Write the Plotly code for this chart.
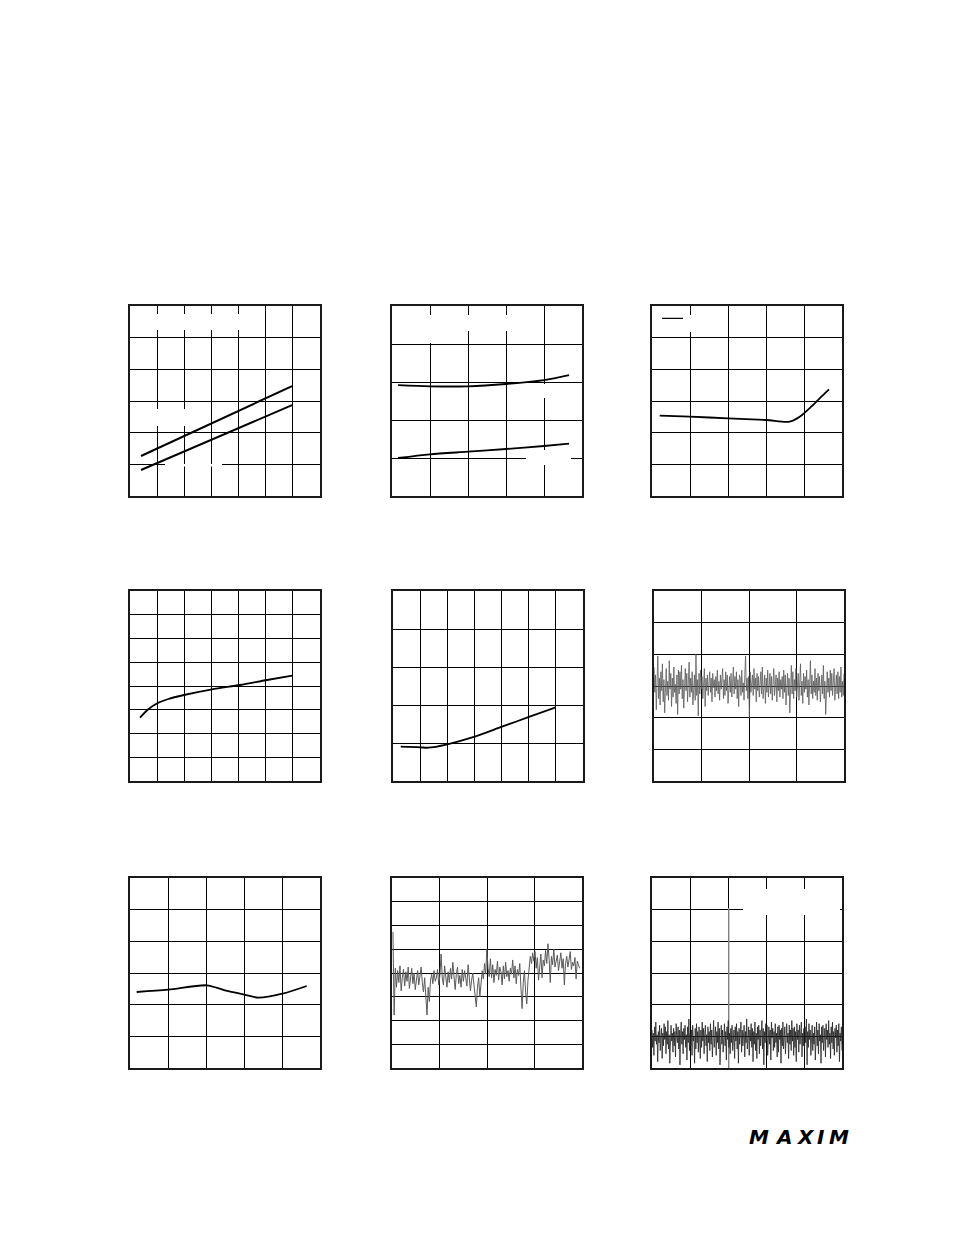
import plotly.graph_objects as go

# page offset: the browser adds an 8px body margin around the figure
OFF = 8
W, H = 954 - OFF, 1235 - OFF

# ---------------- data ----------------
# Panel 1: two straight lines
p1_x = [0.405, 5.97]
p1_upper = [1.263, 3.47]
p1_lower = [0.82, 2.87]

# Panel 2: two curves
p2_x = [0.158, 1.0, 2.0, 3.0, 4.0, 4.66]
p2_upper = [2.92, 2.887, 2.887, 2.947, 3.05, 3.18]
p2_lower = [1.0, 1.097, 1.166, 1.237, 1.316, 1.376]

# Panel 3: one curve + legend sample line
p3_x = [0.203, 1.0, 2.0, 3.0, 3.62, 3.887, 4.19, 4.455, 4.658]
p3_y = [2.536, 2.504, 2.454, 2.40, 2.346, 2.504, 2.82, 3.136, 3.37]
p3_leg_x = [0.263, 0.816]
p3_leg_y = [5.61, 5.61]

# Panel 4
p4_x = [0.368, 0.674, 1.006, 1.411, 1.989, 3.021, 4.053, 5.047, 5.98]
p4_y = [2.665, 3.019, 3.272, 3.453, 3.621, 3.861, 4.042, 4.253, 4.434]

# Panel 5
p5_x = [0.284, 1.006, 1.289, 2.0, 3.01, 4.016, 5.036, 5.994]
p5_y = [0.903, 0.887, 0.876, 0.966, 1.166, 1.429, 1.692, 1.939]

# Panel 6: noise trace (hundredths of a division about the centre line)
p6_center = 3.0
p6_noise = [
    60, -20, 35, -75, 10, 95, -40, 25, -60, 45,
    -15, 70, -50, 20, -85, 30, 55, -30, 15, -45,
    80, -10, 40, -65, 25, -35, 60, -20, 5, -55,
    35, -90, 50, -25, 45, -10, 65, -40, 20, -70,
    30, 55, -15, 40, -50, 10, 75, -35, 25, -20,
    45, -60, 15, 35, -45, 100, -30, 20, -95, 40,
    -25, 50, -10, 30, -40, 15, 55, -65, 25, -15,
    35, -30, 10, 45, -20, 25, -50, 40, -5, 20,
    -35, 30, -15, 50, -25, 15, -45, 35, -10, 25,
    55, -40, 20, -30, 45, -15, 35, -55, 10, 30,
    -20, 40, -35, 15, 60, -25, 30, -10, 45, -40,
    20, -65, 35, 25, -30, 50, -20, 10, -45, 35,
    95, -15, 25, -40, 30, -100, 45, -20, 15, 35,
    -30, 55, -10, 25, -50, 40, -15, 30, -35, 20,
    45, -25, 60, -40, 10, 35, -55, 25, -20, 50,
    -35, 15, 40, -25, 30, -45, 20, 55, -30, 10,
    35, -50, 25, -15, 45, -35, 20, -10, 30, -40,
    50, -20, 35, -60, 15, 40, -30, 25, -85, 30,
    65, -25, 45, -40, 20, -15, 55, -35, 10, 40,
    -45, 25, 70, -30, 15, -55, 40, -20, 30, -10,
    50, -35, 20, -60, 45, 80, -25, 35, -40, 15,
    -20, 55, -30, 25, -45, 40, -15, 30, -50, 20,
    35, -25, 65, -40, 15, -90, 30, 45, -20, 25,
    -35, 50, -15, 40, -30, 20, 55, -45, 10, 35,
    -25, 45, -40, 30, -20, 60, -35, 15, -30, 40,
]

# Panel 7
p7_x = [0.176, 1.008, 2.018, 2.5, 3.008, 3.376, 4.008, 4.65]
p7_y = [2.40, 2.473, 2.612, 2.454, 2.32, 2.223, 2.346, 2.59]

# Panel 8: noise trace with slow drift (hundredths about the centre line)
p8_center = 4.0
p8_noise = [
    173, -177, 20, -60, 10, -40, 30, -75, -20, 15,
    -55, 5, -35, 25, -65, -10, 20, -45, 0, -70,
    -25, 10, -50, -15, 25, -40, -80, -20, -100, -177,
    -60, -120, -30, -5, -45, 10, -35, -20, 15, -50,
    -10, 80, -20, -50, 30, -15, -60, 5, -40, 20,
    -25, 45, -30, -70, -5, 25, -45, -10, -60, 15,
    -35, 10, -20, -55, 35, -15, -75, -30, 0, -50,
    -90, -143, -60, -20, -100, -40, 10, -25, 40, -5,
    100, 20, -15, 60, -20, 35, -40, 15, -10, 50,
    -30, 25, 5, -50, 30, -25, 45, -15, 10, -35,
    20, -5, 55, -20, 30, -45, 15, -10, 40, -60,
    -150, -40, 10, -80, -130, -30, 25, 70, 40, 85,
    50, 90, 20, 65, -30, 45, 80, -20, 55, 30,
    95, 40, 123, 60, -40, 70, 35, 100, 25, 50,
    75, 10, 45, 85, 20, 60, -50, 40, 70, 25,
    55, 90, 15, 45, 30, 65, -25, 50, 35, 20,
]

# Panel 9: dense noise trace (hundredths about the centre line)
p9_center = 1.0
p9_noise = [
    20, -35, 10, -60, 30, -15, 45, -25, 5, -80,
    15, -20, 35, -45, 0, 25, -70, 10, -30, 40,
    -10, 30, -55, 15, -25, 50, -40, 5, -85, 20,
    35, -15, 10, -50, 25, -30, 15, -65, 40, -5,
    -20, 30, -40, 20, -90, 10, 45, -25, 15, -55,
    25, -10, 35, -35, 5, -75, 30, -20, 55, -45,
    10, -30, 20, -60, 35, -15, 0, -85, 25, -40,
    40, -20, 15, -50, 30, -10, -70, 20, -35, 45,
    -15, 25, -55, 10, 35, -30, 5, -80, 30, -20,
    15, -45, 40, -25, 20, -65, 10, 50, -35, -5,
    30, -60, 15, -20, 45, -40, 25, -90, 10, 35,
    -25, 20, -50, 5, 40, -30, 15, -75, 30, -10,
    50, -35, 10, -55, 25, -20, 35, -45, 0, 20,
    -70, 30, -15, 40, -40, 15, -85, 25, -25, 10,
    45, -50, 20, -30, 5, 35, -65, 15, -20, 55,
    -40, 10, 30, -60, 20, -15, 40, -35, 25, -80,
    15, -25, 45, -45, 10, -70, 30, -10, 35, -55,
    20, -30, 5, 50, -40, 25, -90, 15, -20, 40,
    -15, 35, -60, 10, 30, -25, 20, -75, 45, -5,
    25, -45, 15, -35, 40, -20, 10, -65, 30, -50,
    35, -10, 20, -85, 25, -30, 45, -40, 5, 30,
    -55, 15, 40, -20, 10, -70, 35, -25, 20, -45,
    50, -15, 25, -60, 30, -35, 15, -80, 40, -10,
    20, -50, 35, -25, 5, 45, -65, 10, -30, 25,
    -40, 30, -20, 55, -90, 15, -35, 40, -10, 20,
    -60, 25, 35, -45, 10, -25, 30, -75, 15, 45,
    -30, 20, -55, 40, -15, 5, -85, 30, -20, 35,
    -45, 15, 25, -65, 40, -10, 20, -35, 50, -25,
    10, -70, 30, -20, 45, -40, 15, -60, 25, -5,
    35, -50, 20, -30, 40, -80, 10, -15, 30, -45,
]
p9_marker_x = [2.02, 2.02]
p9_marker_y = [0.0, 5.05]

logo_letters = ["M", "A", "X", "I", "M"]

# ---------------- layout geometry (page pixels) ----------------
# (left, right, top, bottom, columns, rows)
panels = [
    (130, 320, 306, 496, 7, 6),
    (392, 582, 306, 496, 5, 5),
    (652, 842, 306, 496, 5, 6),
    (130, 320, 591, 781, 7, 8),
    (393, 583, 591, 781, 7, 5),
    (654, 844, 591, 781, 4, 6),
    (130, 320, 878, 1068, 5, 6),
    (392, 582, 878, 1068, 4, 8),
    (652, 842, 878, 1068, 5, 6),
]


def px_x(px):
    return (px - OFF) / W


def px_y(py):
    return 1 - (py - OFF) / H


fig = go.Figure()


def ax_names(i):
    return ("x" if i == 1 else f"x{i}"), ("y" if i == 1 else f"y{i}")


for i, (l, r, t, b, nc, nr) in enumerate(panels, start=1):
    xn, yn = ax_names(i)
    common = dict(
        showgrid=True, gridcolor="black", gridwidth=1.2, dtick=1, tick0=0,
        showline=True, mirror=True, linecolor="#1a1a1a", linewidth=2,
        zeroline=False, showticklabels=False, ticks="", fixedrange=True,
    )
    fig.layout["xaxis" if i == 1 else f"xaxis{i}"] = dict(
        domain=[px_x(l), px_x(r)], range=[0, nc], anchor=yn, **common)
    fig.layout["yaxis" if i == 1 else f"yaxis{i}"] = dict(
        domain=[px_y(b), px_y(t)], range=[0, nr], anchor=xn, **common)


def line(i, x, y, width=2.0, color="black", shape="spline"):
    xn, yn = ax_names(i)
    fig.add_trace(go.Scatter(x=x, y=y, mode="lines", xaxis=xn, yaxis=yn,
                             line=dict(color=color, width=width, shape=shape,
                                       smoothing=0.8),
                             showlegend=False, hoverinfo="skip"))


def noise(i, center, vals, x0, x1, width, color):
    n = len(vals)
    xs = [x0 + (x1 - x0) * k / (n - 1) for k in range(n)]
    ys = [center + v / 100.0 for v in vals]
    line(i, xs, ys, width=width, color=color, shape="linear")


line(1, p1_x, p1_upper, shape="linear")
line(1, p1_x, p1_lower, shape="linear")
line(2, p2_x, p2_upper, width=1.8)
line(2, p2_x, p2_lower, width=1.8)
line(3, p3_x, p3_y, width=1.8)
line(3, p3_leg_x, p3_leg_y, width=1.2, shape="linear")
line(4, p4_x, p4_y, width=1.8)
line(5, p5_x, p5_y, width=1.8)
noise(6, p6_center, p6_noise, 0.0, 4.0, 0.8, "#5a5a5a")
line(7, p7_x, p7_y, width=1.8)
noise(8, p8_center, p8_noise, 0.02, 3.95, 1.0, "#5a5a5a")
line(9, p9_marker_x, p9_marker_y, width=1.4, color="#8a8a8a", shape="linear")
noise(9, p9_center, p9_noise, 0.0, 5.0, 0.8, "#222222")

# white areas where the original labels sat (gridline gaps)
masks = [
    (1, 145, 314, 255, 330),
    (1, 150, 409, 192, 426),
    (1, 165, 464, 222, 466.5),
    (2, 421, 315, 519, 331),
    (2, 425, 331, 436, 343),
    (2, 537, 384, 551, 398),
    (2, 526, 450, 571, 465),
    (3, 685, 315, 695, 332),
    (9, 743, 889, 840, 915),
]
shapes = []
for (i, px0, py0, px1, py1) in masks:
    l, r, t, b, nc, nr = panels[i - 1]
    xn, yn = ax_names(i)
    shapes.append(dict(
        type="rect", xref=xn, yref=yn, layer="between",
        x0=(px0 - l) / (r - l) * nc, x1=(px1 - l) / (r - l) * nc,
        y0=(b - py1) / (b - t) * nr, y1=(b - py0) / (b - t) * nr,
        fillcolor="white", line=dict(width=0)))

# logo
logo_x = [759, 783, 805, 821, 839]
annotations = []
for ch, px in zip(logo_letters, logo_x):
    annotations.append(dict(
        text=ch, x=px_x(px), y=px_y(1137), xref="paper", yref="paper",
        xanchor="center", yanchor="middle", showarrow=False,
        font=dict(family="DejaVu Sans", size=20, color="black",
                  weight=900, style="italic")))

fig.update_layout(
    width=W, height=H, margin=dict(l=0, r=0, t=0, b=0),
    paper_bgcolor="white", plot_bgcolor="white",
    showlegend=False, shapes=shapes, annotations=annotations,
)

fig.write_html("out.html")
